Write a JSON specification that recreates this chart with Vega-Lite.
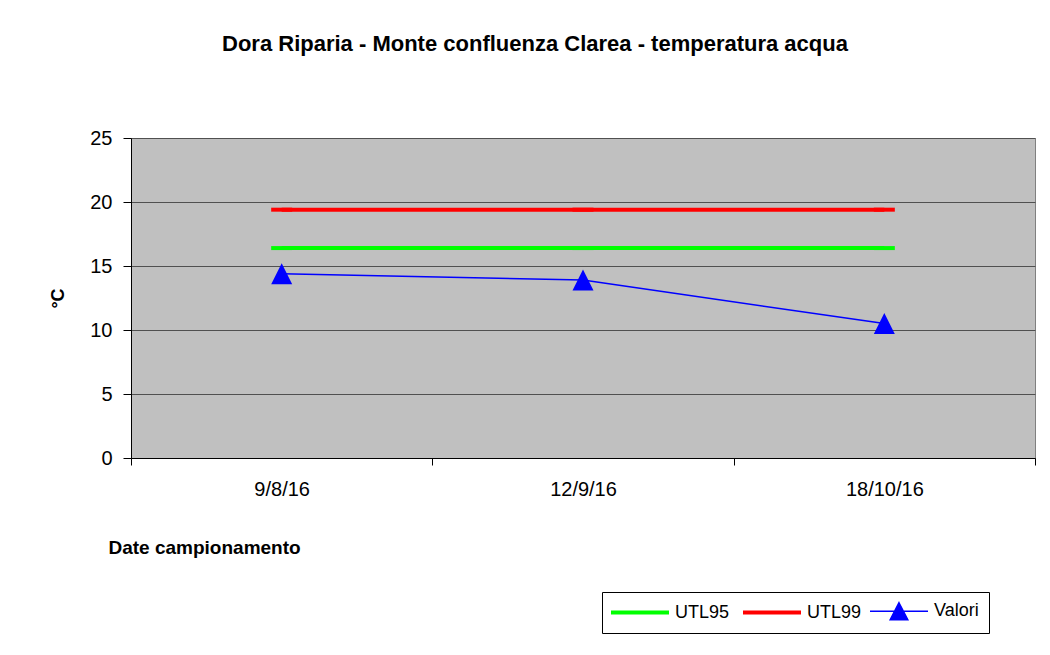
{
  "$schema": "https://vega.github.io/schema/vega-lite/v6.json",
  "autosize": {"type": "none"},
  "width": 904,
  "height": 320,
  "padding": {"left": 131, "top": 138, "right": 15, "bottom": 197},
  "background": "white",
  "title": {
    "text": "Dora Riparia - Monte confluenza Clarea - temperatura acqua",
    "font": "Liberation Sans",
    "fontSize": 22,
    "fontWeight": "bold",
    "color": "black",
    "frame": "group",
    "anchor": "middle",
    "dx": -48,
    "offset": 55,
    "baseline": "alphabetic"
  },
  "config": {
    "view": {"fill": "#C0C0C0", "stroke": "#808080"},
    "font": "Liberation Sans",
    "axis": {
      "labelFont": "Liberation Sans",
      "labelFontSize": 20,
      "labelColor": "black",
      "titleFont": "Liberation Sans",
      "titleColor": "black",
      "domainColor": "black",
      "tickColor": "black"
    }
  },
  "data": {
    "values": [
      {"date": "9/8/16", "serie": "UTL95", "value": 16.4},
      {"date": "12/9/16", "serie": "UTL95", "value": 16.4},
      {"date": "18/10/16", "serie": "UTL95", "value": 16.4},
      {"date": "9/8/16", "serie": "UTL99", "value": 19.4},
      {"date": "12/9/16", "serie": "UTL99", "value": 19.4},
      {"date": "18/10/16", "serie": "UTL99", "value": 19.4},
      {"date": "9/8/16", "serie": "Valori", "value": 14.4},
      {"date": "12/9/16", "serie": "Valori", "value": 13.9},
      {"date": "18/10/16", "serie": "Valori", "value": 10.5}
    ]
  },
  "encoding": {
    "x": {
      "field": "date",
      "type": "nominal",
      "sort": ["9/8/16", "12/9/16", "18/10/16"],
      "scale": {"paddingInner": 0, "paddingOuter": 0},
      "axis": {
        "title": "Date campionamento",
        "titleFontSize": 19,
        "titleFontWeight": "bold",
        "titleAnchor": "start",
        "titleAlign": "left",
        "titleX": -23,
        "titleY": 89,
        "titleBaseline": "middle",
        "labelAngle": 0,
        "labelPadding": 14,
        "tickSize": 7,
        "tickBand": "extent",
        "grid": false
      }
    },
    "y": {
      "field": "value",
      "type": "quantitative",
      "scale": {"domain": [0, 25], "nice": false},
      "axis": {
        "title": "°C",
        "titleFontSize": 18,
        "titleFontWeight": "bold",
        "titlePadding": 22,
        "values": [0, 5, 10, 15, 20, 25],
        "tickSize": 8,
        "labelPadding": 11,
        "grid": true,
        "gridColor": "#505050",
        "gridWidth": 1
      }
    },
    "color": {
      "field": "serie",
      "type": "nominal",
      "scale": {"domain": ["UTL95", "UTL99", "Valori"], "range": ["#00FF00", "#FF0000", "#0000FF"]},
      "legend": {
        "title": null,
        "orient": "none",
        "legendX": 471,
        "legendY": 454,
        "direction": "horizontal",
        "strokeColor": "black",
        "padding": 10,
        "labelFont": "Liberation Sans",
        "labelFontSize": 18,
        "labelColor": "black",
        "labelOffset": 26,
        "symbolOffset": 19,
        "columnPadding": 5,
        "symbolSize": 400,
        "symbolType": "M-2.9,0H2.9",
        "encode": {
          "symbols": {
            "update": {
              "shape": {"signal": "datum.value === 'Valori' ? 'M-2.9,0H2.9M0,-0.85L0.88,0.85L-0.88,0.85Z' : 'M-2.9,0H2.9'"},
              "strokeWidth": {"signal": "datum.value === 'Valori' ? 1.5 : 4"},
              "fill": {"signal": "datum.value === 'Valori' ? '#0000FF' : 'transparent'"},
              "fillOpacity": {"value": 1},
              "opacity": {"value": 1}
            }
          }
        }
      }
    }
  },
  "layer": [
    {
      "transform": [{"filter": "datum.serie !== 'Valori'"}],
      "mark": {"type": "line", "strokeWidth": 4},
      "encoding": {}
    },
    {
      "transform": [{"filter": "datum.serie !== 'Valori'"}],
      "mark": {"type": "point", "shape": "M-1,0L1,0", "size": 441, "strokeWidth": 4, "filled": false, "opacity": 1},
      "encoding": {}
    },
    {
      "transform": [{"filter": "datum.serie === 'Valori'"}],
      "mark": {"type": "line", "strokeWidth": 1.5},
      "encoding": {}
    },
    {
      "transform": [{"filter": "datum.serie === 'Valori'"}],
      "mark": {
        "type": "point",
        "shape": "M0,-1L1,1L-1,1Z",
        "filled": true,
        "size": 441,
        "opacity": 1
      },
      "encoding": {}
    }
  ]
}
